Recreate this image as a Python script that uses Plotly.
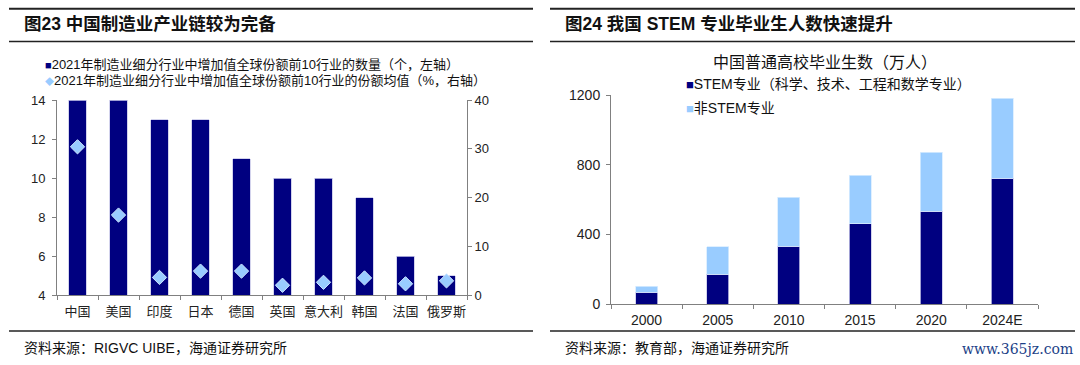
import plotly.graph_objects as go

W, H = 1080, 365

# ---------------- data ----------------
countries = ["中国", "美国", "印度", "日本", "德国", "英国", "意大利", "韩国", "法国", "俄罗斯"]
top10_count = [14, 14, 13, 13, 11, 10, 10, 9, 6, 5]
top10_share = [30.4, 16.4, 3.6, 4.9, 4.9, 2.0, 2.6, 3.5, 2.3, 2.9]

years = ["2000", "2005", "2010", "2015", "2020", "2024E"]
stem_grads = [67, 170, 331, 461, 532, 723]
non_stem_grads = [36, 159, 281, 278, 340, 459]

name_count = "2021年制造业细分行业中增加值全球份额前10行业的数量（个，左轴）"
name_share = "2021年制造业细分行业中增加值全球份额前10行业的份额均值（%，右轴）"
name_stem = "STEM专业（科学、技术、工程和数学专业）"
name_non = "非STEM专业"

NAVY = "#000080"
LIGHT = "#99CCFF"
FONT = "Liberation Sans, Noto Sans CJK SC, sans-serif"
TXT = "#222222"

# the captured picture shows the page between y=8 and y=357; map target pixels accordingly
TOP_BAND, VIS_H = 8.0, 349.0


def px(x):
    return x / W


def py(y):
    page_y = (y - TOP_BAND) * H / VIS_H
    page_y = min(max(page_y, 0.8), H - 0.8)
    return 1 - page_y / H


fig = go.Figure()

fig.add_trace(go.Bar(
    x=countries, y=top10_count, xaxis="x", yaxis="y", width=0.42,
    marker=dict(color=NAVY, line=dict(color="#c8c8e8", width=0.8)),
    name=name_count,
))
fig.add_trace(go.Scatter(
    x=countries, y=top10_share, xaxis="x", yaxis="y2", mode="markers",
    marker=dict(symbol="diamond", size=11, color=LIGHT, line=dict(color="#cfe6ff", width=1)),
    name=name_share,
))
fig.add_trace(go.Bar(
    x=years, y=stem_grads, xaxis="x3", yaxis="y3", width=0.31,
    marker=dict(color=NAVY, line=dict(color="#c8c8e8", width=0.8)),
    name=name_stem,
))
fig.add_trace(go.Bar(
    x=years, y=non_stem_grads, xaxis="x3", yaxis="y3", width=0.31,
    marker=dict(color=LIGHT, line=dict(color="#d8ecff", width=0.8)),
    name=name_non,
))


def ax(size=13, **kw):
    d = dict(showgrid=False, zeroline=False, showline=True, linecolor="#808080", linewidth=1,
             ticks="outside", tickcolor="#808080", ticklen=4,
             tickfont=dict(family=FONT, size=size, color=TXT))
    d.update(kw)
    return d


fig.update_layout(
    width=W, height=H, margin=dict(l=0, r=0, t=0, b=0),
    paper_bgcolor="white", plot_bgcolor="white",
    barmode="stack", showlegend=False,
    font=dict(family=FONT, color=TXT),
    xaxis=ax(13, domain=[px(57), px(467)], anchor="y", type="category", range=[-0.5, 9.5],
             tickson="boundaries", tickangle=0, ticklabelstandoff=4),
    yaxis=ax(13, domain=[py(295), py(100)], anchor="x", range=[4, 14], dtick=2,
             ticklabelstandoff=4),
    yaxis2=ax(13, overlaying="y", side="right", anchor="x", range=[0, 40], dtick=10),
    xaxis3=ax(14, domain=[px(611), px(1038)], anchor="y3", type="category", range=[-0.5, 5.5],
              tickson="boundaries", tickangle=0, ticklabelstandoff=3),
    yaxis3=ax(14, domain=[py(304), py(95)], anchor="x3", range=[0, 1200], dtick=400,
              ticklabelstandoff=3),
)

# horizontal rules
rules = [(9, 533, 7, 2), (9, 533, 41.5, 1.5), (9, 533, 331, 1.5),
         (550, 1075, 7, 2), (550, 1075, 41.5, 1.5), (550, 1075, 331, 1.5)]
for x0, x1, y, w in rules:
    fig.add_shape(type="line", xref="paper", yref="paper", x0=px(x0), x1=px(x1),
                  y0=py(y), y1=py(y), line=dict(color="#222222", width=w))


def note(text, x, y, size, xanchor="left", color="#111111", family=FONT):
    fig.add_annotation(text=text, x=px(x), y=py(y), xref="paper", yref="paper",
                       xanchor=xanchor, yanchor="middle", showarrow=False,
                       font=dict(family=family, size=size, color=color))


def sq(color, size=11):
    return f"<span style='color:{color};font-size:{size}px'>■</span>"


def dm(color, size=9):
    return f"<span style='color:{color};font-size:{size}px'>◆</span>"


note("<b>图23 中国制造业产业链较为完备</b>", 22, 24, 17.5)
note("<b>图24 我国 STEM 专业毕业生人数快速提升</b>", 563, 24, 17.5)

note(sq(NAVY) + name_count, 43, 64, 13)
note(dm(LIGHT) + name_share, 43, 80, 13)

note("中国普通高校毕业生数（万人）", 825, 62, 16, xanchor="center")
note(sq(NAVY, 13) + name_stem, 684, 84, 14)
note(sq(LIGHT, 13) + name_non, 684, 108, 14)

note("资料来源：RIGVC UIBE，海通证券研究所", 22, 348, 14)
note("资料来源：教育部，海通证券研究所", 563, 348, 14)

note("www.365jz.com", 1075, 349, 14, xanchor="right", color="#1c3f87",
     family="DejaVu Serif, Liberation Serif, serif")

fig.write_html("out.html", config={"displayModeBar": False},
               post_script="document.body.style.margin='0';")
